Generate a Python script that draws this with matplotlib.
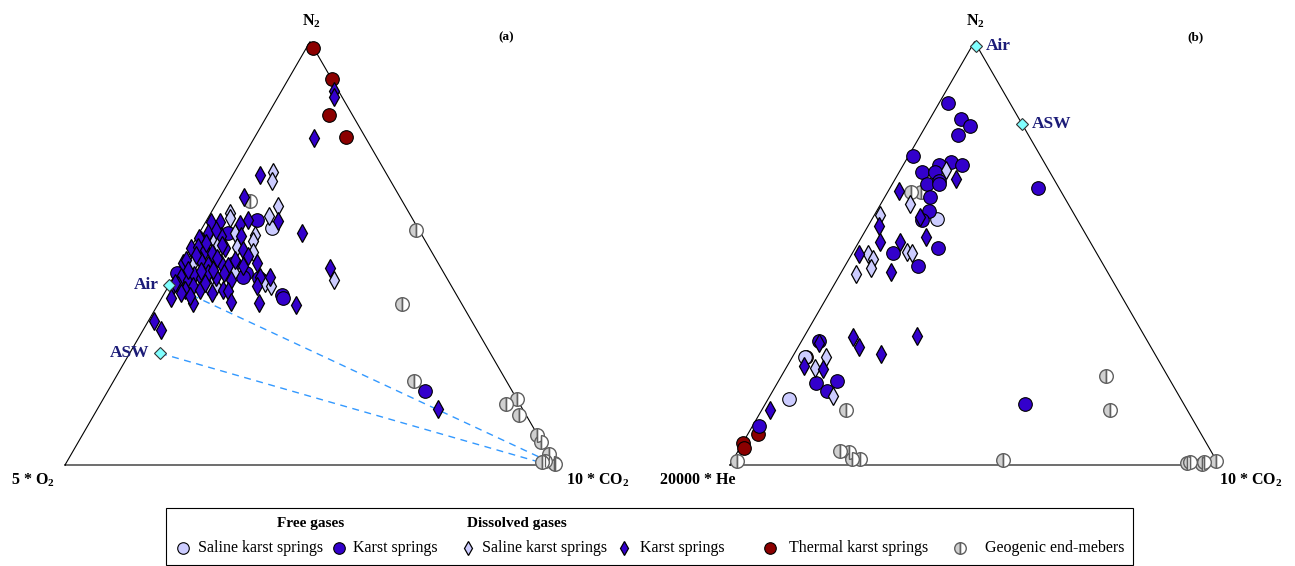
import numpy as np
import matplotlib
matplotlib.use("Agg")
import matplotlib.pyplot as plt
from matplotlib.lines import Line2D
from matplotlib.patches import Rectangle

plt.rcParams["font.family"] = ["Liberation Serif", "DejaVu Serif"]
plt.rcParams["mathtext.fontset"] = "custom"
plt.rcParams["mathtext.rm"] = "Liberation Serif:bold"
plt.rcParams["mathtext.bf"] = "Liberation Serif:bold"
plt.rcParams["mathtext.default"] = "rm"

# ---------------------------------------------------------------------------
# Data: ternary compositions in percent (N2 = top apex, CO2 = right apex,
# remainder = left apex: 5*O2 in panel a, 20000*He in panel b)
# ---------------------------------------------------------------------------

# Panel (a): N2 - 10*CO2 - 5*O2
a_thermal_n2 = [98.5, 91.1, 82.6, 77.5]
a_thermal_co2 = [1.4, 8.9, 12.6, 18.5]

a_karst_free_n2 = [57.9, 17.5, 40.2, 39.4, 54.8, 47.7, 45.3, 45.3, 44.5, 44.1]
a_karst_free_co2 = [10.3, 64.7, 24.1, 24.8, 5.9, 10.7, 0.3, 14.3, 14.0, 17.6]

a_saline_free_n2 = [56.0]
a_saline_free_co2 = [14.3]

a_karst_diss_n2 = [88.3, 86.9, 77.2, 68.4, 63.4, 54.8, 46.5, 34.1, 31.9, 13.2, 37.8, 57.7,
                   57.5, 57.3, 57.0, 57.9, 53.6, 54.8, 54.0, 54.0, 51.2, 51.6, 50.8, 50.0,
                   51.2, 50.8, 49.3, 47.7, 47.7, 48.5, 48.1, 47.3, 47.7, 46.9, 46.9, 44.5,
                   43.7, 44.9, 44.1, 45.3, 44.5, 45.3, 43.7, 44.5, 44.5, 42.2, 42.6, 41.4,
                   42.2, 41.4, 41.4, 41.0, 42.2, 39.4, 40.6, 38.2, 40.6, 38.6, 38.2,
                   55.5, 52.5, 49.5, 46.0, 43.0, 49.0, 45.8, 52.0, 48.5, 46.0, 43.0, 40.0]
a_karst_diss_co2 = [10.8, 11.4, 12.2, 5.5, 4.8, 20.9, 30.9, 1.1, 3.7, 69.5, 28.2, 14.6,
                    1.0, 3.0, 7.3, 8.4, 0.5, 1.8, 4.9, 9.0, 0.2, 1.3, 3.1, 4.9,
                    7.0, 10.9, 12.7, 15.4, 0.2, 0.5, 3.7, 5.5, 8.0, 9.8, 12.8, 1.4,
                    3.2, 3.9, 5.7, 6.5, 8.6, 9.9, 12.0, 17.6, 19.5, 0.9, 1.7, 3.7,
                    5.0, 6.8, 11.5, 12.8, 18.0, 2.0, 3.4, 7.1, 9.6, 14.6, 20.5,
                    3.0, 2.5, 2.0, 2.0, 1.0, 6.5, 4.8, 6.0, 10.5, 7.2, 7.0, 5.5]

a_saline_diss_n2 = [69.3, 67.0, 61.2, 58.9, 43.7, 59.5, 58.3, 53.2, 52.8, 54.8, 54.4, 52.8,
                    50.0, 52.0, 51.6, 50.4, 47.7, 48.5, 45.7, 43.7, 42.9, 42.2, 42.2, 42.2]
a_saline_diss_co2 = [7.9, 8.8, 12.8, 12.2, 33.1, 3.9, 4.5, 1.2, 4.1, 7.2, 11.5, 12.0,
                     1.4, 5.2, 9.2, 13.2, 2.2, 5.9, 11.7, 8.0, 19.3, 8.1, 9.8, 21.0]

a_geo_n2 = [62.3, 55.4, 38.1, 19.9, 14.3, 15.5, 11.8, 7.0, 5.4, 2.6, 0.9, 0.4, 0.2, 0.8]
a_geo_co2 = [6.7, 43.9, 49.8, 61.3, 82.8, 84.5, 86.8, 92.9, 94.5, 97.4, 97.6, 99.6, 99.8, 97.0]

a_ref_names = ["Air", "ASW"]
a_ref_n2 = [42.6, 26.4]
a_ref_co2 = [0.0, 6.2]
# end points of the air / ASW mixing lines towards the CO2-rich end-member
a_mix_end_n2 = [1.6, 0.5]
a_mix_end_co2 = [96.5, 97.1]

# Panel (b): N2 - 10*CO2 - 20000*He
b_thermal_n2 = [25.6, 7.3, 5.1, 3.9]
b_thermal_co2 = [2.7, 2.1, 0.2, 0.9]

b_karst_free_n2 = [85.6, 81.7, 80.0, 78.0, 73.1, 71.5, 70.9, 70.8, 69.2, 69.1, 66.5, 67.2, 66.3,
                   63.4, 65.4, 59.9, 57.9, 51.3, 50.2, 47.1, 29.4, 19.3, 19.8, 17.5, 14.3, 9.3]
b_karst_free_co2 = [1.8, 6.3, 9.1, 7.7, 0.8, 9.5, 11.9, 7.3, 4.7, 7.3, 7.1, 9.1, 9.6,
                    9.2, 30.2, 10.8, 10.3, 16.8, 8.3, 14.8, 3.6, 8.0, 12.0, 11.0, 53.1, 1.3]

b_saline_free_n2 = [58.1, 25.6, 15.7]
b_saline_free_co2 = [13.2, 2.5, 4.2]

b_karst_diss_n2 = [67.5, 64.8, 58.7, 56.5, 52.6, 52.6, 53.9, 49.8, 45.5, 30.2, 27.8, 26.2,
                   30.5, 28.8, 23.4, 22.6, 13.1]
b_karst_diss_co2 = [12.4, 2.2, 9.5, 2.2, 4.4, 8.5, 13.2, 1.5, 10.1, 10.1, 12.5, 17.8,
                    23.0, 3.7, 3.5, 7.7, 1.6]

b_saline_diss_n2 = [69.7, 61.6, 59.1, 49.8, 48.6, 50.4, 50.0, 45.1, 46.5, 25.4, 23.0, 16.4]
b_saline_diss_co2 = [9.4, 6.0, 1.2, 3.3, 5.0, 10.9, 12.2, 3.3, 5.5, 6.9, 5.9, 12.9]

b_geo_n2 = [64.4, 64.4, 21.1, 13.0, 13.0, 3.4, 3.0, 1.3, 1.4, 0.9, 1.2, 0.4, 0.6, 0.2, 0.6, 1.0]
b_geo_co2 = [4.8, 6.9, 66.4, 71.3, 17.2, 20.7, 22.9, 24.4, 25.9, 1.0, 55.3, 93.2, 93.8, 96.4, 96.6, 98.8]

b_ref_names = ["Air", "ASW"]
b_ref_n2 = [99.0, 80.6]
b_ref_co2 = [0.8, 19.4]

legend_labels = ["Saline karst springs", "Karst springs", "Saline karst springs",
                 "Karst springs", "Thermal karst springs", "Geogenic end-mebers"]

# ---------------------------------------------------------------------------
SQ = np.sqrt(3) / 2
W, H = 1295, 566


def to_xy(n2, co2):
    top = np.asarray(n2, dtype=float) / 100.0
    right = np.asarray(co2, dtype=float) / 100.0
    return right + top / 2.0, top * SQ


BLUE = "#3300cc"
LAV = "#ccccff"
RED = "#8b0000"
NAVY = "#1c1c78"

STY = {
    "geo": dict(marker="o", ms=9.8, mfc="#d0d0d0", mfcalt="white", fillstyle="left",
                mec="#606060", mew=1.0),
    "thermal": dict(marker="o", ms=9.8, mfc=RED, mec="black", mew=0.8),
    "saline_free": dict(marker="o", ms=9.8, mfc=LAV, mec="black", mew=0.8),
    "karst_free": dict(marker="o", ms=9.8, mfc=BLUE, mec="black", mew=0.8),
    "saline_diss": dict(marker="d", ms=8.8, mfc=LAV, mec="black", mew=0.9),
    "karst_diss": dict(marker="d", ms=8.8, mfc=BLUE, mec="black", mew=0.9),
}


def draw(ax, n2, co2, kind):
    x, y = to_xy(n2, co2)
    ax.plot(x, y, ls="none", clip_on=False, **STY[kind])
    if kind == "geo":
        ax.plot(x, y, ls="none", marker="|", ms=9.2, mew=0.9, color="#606060", clip_on=False)


def frame(ax):
    vx, vy = to_xy([0, 0, 100, 0], [0, 100, 0, 0])
    ax.plot(vx, vy, color="black", lw=0.8, clip_on=False, zorder=1)
    ax.set_xlim(0, 1)
    ax.set_ylim(0, SQ)
    ax.axis("off")


fig = plt.figure(figsize=(W / 100, H / 100), dpi=100)
axa = fig.add_axes([65 / W, 101 / H, 490 / W, 423.3 / H])
axb = fig.add_axes([730 / W, 101 / H, 489 / W, 423.3 / H])
frame(axa)
frame(axb)

# Panel (a)
for sn2, sco2, en2, eco2 in zip(a_ref_n2, a_ref_co2, a_mix_end_n2, a_mix_end_co2):
    x, y = to_xy([sn2, en2], [sco2, eco2])
    axa.plot(x, y, color="#3399ff", lw=1.0, dashes=(5, 4), zorder=1)
draw(axa, a_geo_n2, a_geo_co2, "geo")
draw(axa, a_thermal_n2, a_thermal_co2, "thermal")
draw(axa, a_saline_free_n2, a_saline_free_co2, "saline_free")
draw(axa, a_karst_free_n2, a_karst_free_co2, "karst_free")
draw(axa, a_saline_diss_n2, a_saline_diss_co2, "saline_diss")
draw(axa, a_karst_diss_n2, a_karst_diss_co2, "karst_diss")
rx, ry = to_xy(a_ref_n2, a_ref_co2)
axa.plot(rx, ry, ls="none", marker="D", ms=6.5, mfc="#80ffff", mec="#333333", mew=0.8, clip_on=False)
for name, x, y in zip(a_ref_names, rx, ry):
    axa.annotate(name, (x, y), xytext=(-8, 0), textcoords="offset points", ha="right",
                 va="center", fontsize=12.5, fontweight="bold", color=NAVY)

# Panel (b)
draw(axb, b_geo_n2, b_geo_co2, "geo")
draw(axb, b_thermal_n2, b_thermal_co2, "thermal")
draw(axb, b_saline_free_n2, b_saline_free_co2, "saline_free")
draw(axb, b_karst_free_n2, b_karst_free_co2, "karst_free")
draw(axb, b_saline_diss_n2, b_saline_diss_co2, "saline_diss")
draw(axb, b_karst_diss_n2, b_karst_diss_co2, "karst_diss")
rx, ry = to_xy(b_ref_n2, b_ref_co2)
axb.plot(rx, ry, ls="none", marker="D", ms=6.5, mfc="#80ffff", mec="#333333", mew=0.8, clip_on=False)
for name, x, y in zip(b_ref_names, rx, ry):
    axb.annotate(name, (x, y), xytext=(7, 0), textcoords="offset points", ha="left",
                 va="center", fontsize=12.5, fontweight="bold", color=NAVY)


def ftext(px, py, s, **kw):
    fig.text(px / W, 1 - py / H, s, **kw)


lab = dict(fontsize=11.5, fontweight="bold", ha="center", va="center")
ftext(311, 21, r"N$_2$", **lab)
ftext(975, 21, r"N$_2$", **lab)
ftext(33, 480, r"5 * O$_2$", **lab)
ftext(598, 480, r"10 * CO$_2$", **lab)
ftext(698, 480, r"20000 * He", **lab)
ftext(1251, 480, r"10 * CO$_2$", **lab)
ftext(506, 37, "(a)", fontsize=9.5, fontweight="bold", ha="center", va="center")
ftext(1196, 37, "(b)", fontsize=9.5, fontweight="bold", ha="center", va="center")

# Legend box
fig.add_artist(Rectangle((166 / W, 0.0015), (1133 - 166) / W, (566 - 509) / H,
                         transform=fig.transFigure, fill=False, ec="black", lw=0.8))
ftext(311, 524, "Free gases", fontsize=11, fontweight="bold", ha="center", va="center")
ftext(517, 524, "Dissolved gases", fontsize=11, fontweight="bold", ha="center", va="center")

leg_kinds = ["saline_free", "karst_free", "saline_diss", "karst_diss", "thermal", "geo"]
leg_mx = [183, 339, 468, 624, 770, 960]
leg_tx = [198, 353, 482, 640, 789, 985]
for kind, mx, tx, text in zip(leg_kinds, leg_mx, leg_tx, legend_labels):
    st = dict(STY[kind])
    st["ms"] = st["ms"] * 0.85
    fig.add_artist(Line2D([mx / W], [1 - 548 / H], transform=fig.transFigure, ls="none", **st))
    if kind == "geo":
        fig.add_artist(Line2D([mx / W], [1 - 548 / H], transform=fig.transFigure, ls="none",
                              marker="|", ms=8, mew=0.9, color="#606060"))
    ftext(tx, 548, text, fontsize=11.5, ha="left", va="center")

fig.savefig("out.png", dpi=100)
